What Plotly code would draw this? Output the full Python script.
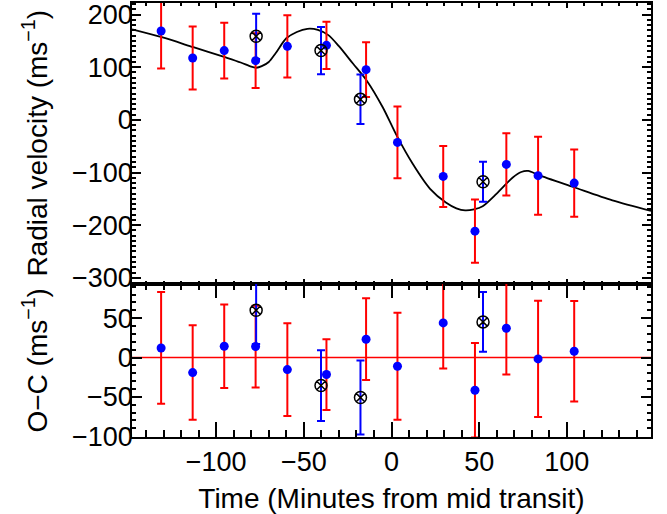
import plotly.graph_objects as go

# ---- data ----
t_red = [-131.4, -113.4, -95.4, -77.5, -59.4, -37.1, -14.5, 3.4, 29.5, 47.6, 65.5, 83.6, 104.2]
rv_red = [168.8, 117.5, 131.6, 112.5, 139.7, 141.6, 95.4, -42.8, -107.4, -211.4, -84.6, -106.0, -120.1]
err_red = [71, 60, 53, 52, 59, 45, 52, 68, 58, 60, 59, 74, 64]
oc_red = [12.2, -19.1, 14.4, 14.0, -15.3, -21.6, 23.3, -11.1, 44.0, -41.6, 37.3, -1.7, 8.0]

t_blue = [-77.2, -40.2, -17.7, 52.2]
rv_blue = [158.7, 131.6, 39.0, -117.5]
err_blue = [43, 45, 47, 38]
oc_blue = [60.2, -35.6, -50.9, 45.3]

model_t = [-148, -131, -113, -95, -86, -80, -77, -74, -70, -66, -60, -54, -48, -42, -36, -30,
           -22, -14, -5, 3, 12, 22, 31, 37, 42, 47, 52, 60, 69, 74, 78, 84, 104, 126, 148]
model_rv = [172, 157, 138, 119, 109, 101, 99, 102, 110, 127, 155, 167, 173, 171, 161, 140,
            107, 74, 24, -30, -83, -131, -157, -168, -172, -170, -164, -140, -110, -99, -97, -105, -128, -153, -173]

x_range = [-148, 148]
rv_range = [-311, 222]
oc_range = [-101, 94]

FONT = "Liberation Sans, Arial, Helvetica, sans-serif"
RED = "#ff0000"
BLUE = "#0000ff"

fig = go.Figure()

# top panel
fig.add_trace(go.Scatter(x=model_t, y=model_rv, mode="lines", line=dict(color="black", width=1.8, shape="spline", smoothing=0.8),
                         xaxis="x", yaxis="y", hoverinfo="skip"))
fig.add_trace(go.Scatter(x=t_red, y=rv_red, mode="markers", xaxis="x", yaxis="y",
                         marker=dict(color=BLUE, size=9),
                         error_y=dict(type="data", array=err_red, color=RED, thickness=2, width=4)))
fig.add_trace(go.Scatter(x=t_blue, y=rv_blue, mode="markers", xaxis="x", yaxis="y",
                         marker=dict(symbol="circle-x-open", color="black", size=12, line=dict(width=1.5)),
                         error_y=dict(type="data", array=err_blue, color=BLUE, thickness=2, width=4)))

# bottom panel
fig.add_trace(go.Scatter(x=t_red, y=oc_red, mode="markers", xaxis="x2", yaxis="y2",
                         marker=dict(color=BLUE, size=9),
                         error_y=dict(type="data", array=err_red, color=RED, thickness=2, width=4)))
fig.add_trace(go.Scatter(x=t_blue, y=oc_blue, mode="markers", xaxis="x2", yaxis="y2",
                         marker=dict(symbol="circle-x-open", color="black", size=12, line=dict(width=1.5)),
                         error_y=dict(type="data", array=err_blue, color=BLUE, thickness=2, width=4)))

fig.add_shape(type="line", xref="x2 domain", yref="y2", x0=0, x1=1, y0=0, y1=0,
              line=dict(color=RED, width=1.5), layer="below")

split = 153.4 / 434.0

axis_common = dict(showline=True, linecolor="black", linewidth=1.5, mirror="ticks", automargin=False,
                   ticks="inside", tickcolor="black", tickwidth=1.5, showgrid=False, zeroline=False,
                   ticklabeloverflow="allow",
                   tickfont=dict(family=FONT, size=27, color="black"))

fig.update_layout(
    width=667, height=514,
    margin=dict(l=132, r=16, t=3, b=77),
    paper_bgcolor="white", plot_bgcolor="white",
    showlegend=False,
    font=dict(family=FONT, color="black"),
    xaxis=dict(axis_common, domain=[0, 1], anchor="y", range=x_range, dtick=50, tick0=0,
               ticklen=5, showticklabels=False,
               minor=dict(dtick=10, ticklen=3.3, tickwidth=1.5, tickcolor="black", ticks="inside")),
    yaxis=dict(axis_common, domain=[split, 1], anchor="x", range=rv_range, dtick=100, tick0=0,
               ticklen=9, ticklabelstandoff=-8,
               minor=dict(dtick=10, ticklen=4.5, tickwidth=1.5, tickcolor="black", ticks="inside"),
               title=dict(text="Radial velocity (ms<sup>−1</sup>)", font=dict(family=FONT, size=28), standoff=16)),
    xaxis2=dict(axis_common, domain=[0, 1], anchor="y2", range=x_range, dtick=50, tick0=0,
                ticklen=15, matches="x",
                minor=dict(dtick=10, ticklen=7, tickwidth=1.5, tickcolor="black", ticks="inside"),
                title=dict(text="Time (Minutes from mid transit)", font=dict(family=FONT, size=28), standoff=12)),
    yaxis2=dict(axis_common, domain=[0, split], anchor="x2", range=oc_range, dtick=50, tick0=0,
                ticklen=10, ticklabelstandoff=-8,
                minor=dict(dtick=10, ticklen=4.5, tickwidth=1.5, tickcolor="black", ticks="inside"),
                title=dict(text="O−C (ms<sup>−1</sup>)", font=dict(family=FONT, size=28), standoff=16)),
)

fig.write_html("out.html", config={"displayModeBar": False},
               post_script="document.body.style.margin='0';")
